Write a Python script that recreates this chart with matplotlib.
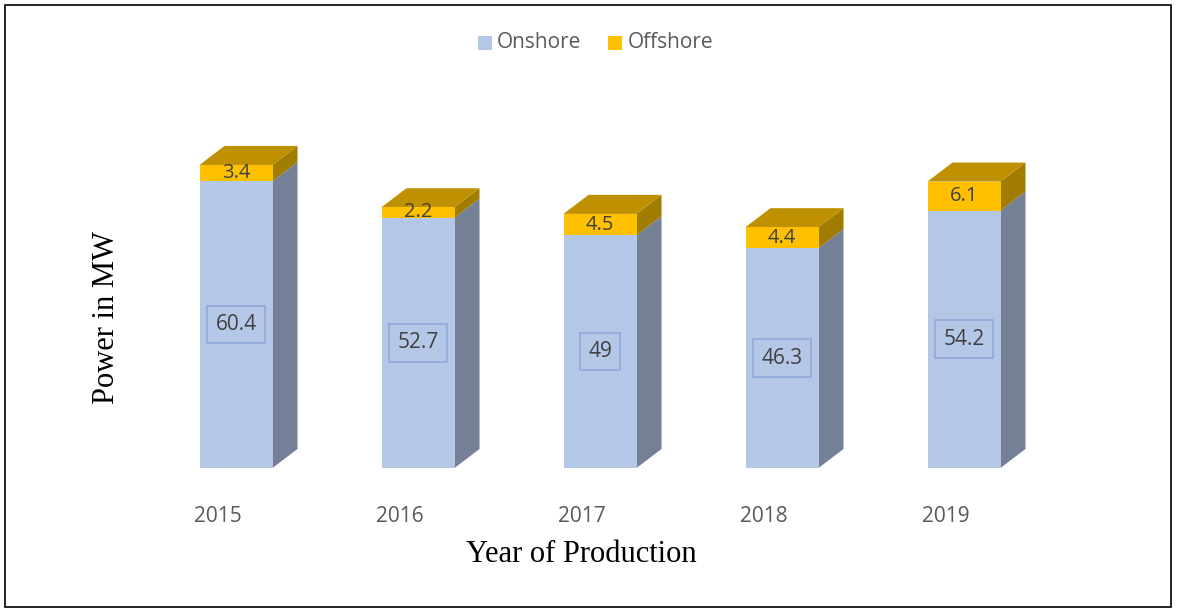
import matplotlib
matplotlib.use("Agg")
import matplotlib.pyplot as plt
from matplotlib.patches import Polygon, Rectangle

years = ["2015", "2016", "2017", "2018", "2019"]
onshore = [60.4, 52.7, 49, 46.3, 54.2]
offshore = [3.4, 2.2, 4.5, 4.4, 6.1]

on_front = "#B4C7E7"
on_side = "#748096"
off_front = "#FFC000"
off_top = "#BF9000"
off_side = "#A07C00"
txt = "#404040"

fig = plt.figure(figsize=(11.77, 6.11), dpi=100)
ax = fig.add_axes([145/1177, (611-468)/611, 910/1177, 332.5/611])
ax.set_xlim(-0.5, 4.5)
ax.set_ylim(0, 70)
for s in ax.spines.values():
    s.set_visible(False)
ax.set_yticks([])

w = 73/182
dx = 25/182
dy = 4.0
x = list(range(len(years)))

ax.bar(x, onshore, width=w, color=on_front, zorder=2)
ax.bar(x, offshore, width=w, bottom=onshore, color=off_front, zorder=2)

for i in x:
    r = i + w/2
    l = i - w/2
    on = onshore[i]
    tot = on + offshore[i]
    ax.add_patch(Polygon([(r, 0), (r+dx, dy), (r+dx, on+dy), (r, on)],
                         closed=True, fc=on_side, ec="none", zorder=1))
    ax.add_patch(Polygon([(r, on), (r+dx, on+dy), (r+dx, tot+dy), (r, tot)],
                         closed=True, fc=off_side, ec="none", zorder=1))
    ax.add_patch(Polygon([(l, tot), (l+dx, tot+dy), (r+dx, tot+dy), (r, tot)],
                         closed=True, fc=off_top, ec="none", zorder=1))
    ax.text(i, on/2, f"{onshore[i]:g}", ha="center", va="center", fontsize=15,
            color=txt, family="Open Sans", zorder=3,
            bbox=dict(boxstyle="square,pad=0.4", fc="none", ec="#8FAADC", lw=1.2))
    ax.text(i, on + offshore[i]/2, f"{offshore[i]:g}", ha="center", va="center",
            fontsize=14.5, color=txt, family="Open Sans", zorder=3)

ax.set_xticks([i - 0.1 for i in x])
ax.set_xticklabels(years, fontsize=15, color="#595959", family="Open Sans")
ax.tick_params(axis="x", length=0, pad=27)

fig.text(581/1177, 1-555/611, "Year of Production", ha="center", va="center",
         fontsize=22, family="Liberation Serif", color="black")
fig.text(106/1177, 1-317/611, "Power in MW", ha="center", va="center",
         rotation=90, fontsize=22, family="Liberation Serif", color="black")

lx, ly = 478, 43
fig.patches.append(Rectangle((lx/1177, 1-(ly+7)/611), 14/1177, 14/611,
                             transform=fig.transFigure, fc=on_front, ec="none"))
fig.text((lx+19)/1177, 1-ly/611, "Onshore", ha="left", va="center",
         fontsize=15, color="#595959", family="Open Sans")
lx2 = 608
fig.patches.append(Rectangle((lx2/1177, 1-(ly+7)/611), 14/1177, 14/611,
                             transform=fig.transFigure, fc=off_front, ec="none"))
fig.text((lx2+20)/1177, 1-ly/611, "Offshore", ha="left", va="center",
         fontsize=15, color="#595959", family="Open Sans")

fig.patches.append(Rectangle((5/1177, 4/611), 1166/1177, 602/611,
                             transform=fig.transFigure, fc="none", ec="black", lw=1.2))

fig.savefig("out.png", dpi=100)
